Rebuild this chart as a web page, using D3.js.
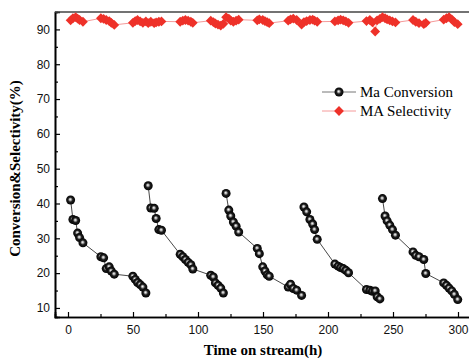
<!DOCTYPE html>
<html>
<head>
<meta charset="utf-8">
<script src="https://cdn.jsdelivr.net/npm/d3@7"></script>
<style>
  body { margin: 0; background: #fff; }
  svg { display: block; }
</style>
</head>
<body>
<div id="chart"></div>
<script>
// time on stream (h), one entry per sample
const time = [
  2, 3.8, 5.9, 7.4, 8.9, 11.5, 25.3, 27.4, 29.4, 31.7, 33.3, 35.6, 49.9, 51.7, 53.5, 55.5, 57.6, 59.9,
  61.7, 63.7, 66.3, 67.8, 69.9, 71.9, 86.3, 88.3, 90.3, 92.4, 94.5, 96, 109.8, 111.8, 113.4, 115.4, 117.5, 119.5,
  121.6, 123.7, 125.2, 127.2, 129.3, 131.3, 145.6, 147.2, 149.8, 151.5, 153.2, 154.8, 169.4, 171.2, 173.3, 175.9, 179.7,
  181.5, 183.6, 186.1, 188.2, 189.7, 191.7, 205.3, 207.8, 209.7, 211.7, 213.7, 215.8, 229.6, 232.2, 234.2, 236.3, 237.8, 239.9,
  241.9, 243.9, 245.5, 247.5, 249.6, 251.9, 265.4, 267.5, 270, 273.7, 275.2, 289, 291.1, 293.1, 295.2, 297.2, 299.8
];

// Ma conversion (%)
const conversion = [
  41, 35.4, 35.1, 31.5, 30.2, 28.7, 24.7, 24.4, 21.3, 21.8, 20.6, 19.7, 19.1, 18.2, 17.3, 16.7, 16.0, 14.3,
  45.1, 38.7, 38.6, 35.7, 32.5, 32.3, 25.4, 24.7, 23.9, 23.1, 22.4, 21.2, 19.4, 18.9, 17.2, 16.5, 15.7, 14.3,
  42.9, 38.1, 36.4, 34.7, 33.5, 31.8, 27.1, 25.6, 21.8, 20.6, 19.5, 19.1, 16.0, 16.8, 15.6, 15.1, 13.6,
  39.0, 37.6, 35.4, 34.1, 32.5, 29.7, 22.6, 22.0, 21.6, 21.3, 20.8, 20.1, 15.3, 15.1, 14.8, 14.9, 13.2, 12.6,
  41.4, 36.4, 35.0, 33.8, 32.5, 30.9, 26.1, 25.1, 24.7, 23.9, 19.9, 17.2, 16.5, 15.7, 14.9, 13.9, 12.4
];

// MA selectivity (%)
const selectivity = [
  92.6, 93.2, 93.5, 93.1, 92.7, 92.2, 93.2, 93.0, 92.7, 92.4, 91.9, 91.3, 91.9, 92.4, 92.7, 92.3, 91.9, 92.3,
  91.8, 92.2, 91.8, 92.0, 92.2, 92.3, 92.2, 92.5, 92.7, 92.5, 92.2, 91.9, 92.5, 92.1, 91.7, 91.4, 91.1, 91.6,
  93.5, 93.1, 92.5, 92.2, 92.5, 92.8, 92.6, 92.9, 92.7, 92.4, 92.1, 91.8, 92.5, 92.9, 93.1, 92.7, 91.4,
  92.1, 92.4, 92.7, 92.8, 92.5, 92.2, 92.3, 92.6, 92.8, 92.6, 92.3, 91.9, 92.4, 92.7, 92.0, 89.4, 92.6, 93.0,
  93.5, 93.2, 92.9, 92.6, 92.3, 92.0, 92.7, 92.2, 91.8, 91.5, 91.9, 92.8, 93.2, 93.5, 92.9, 92.1, 91.5
];

// catalyst regenerated at these times: conversion line restarts
const runStarts = [0, 61, 121, 181, 241];

const xTicks = [0, 50, 100, 150, 200, 250, 300];
const xMinor = [25, 75, 125, 175, 225, 275];
const yTicks = [10, 20, 30, 40, 50, 60, 70, 80, 90];
const yMinor = [15, 25, 35, 45, 55, 65, 75, 85];

const W = 469, H = 358;
const margin = { top: 12, right: -2, bottom: 41, left: 55 };
const width = W - margin.left - margin.right;
const height = H - margin.top - margin.bottom;

const data = time.map((t, i) => ({
  t,
  conv: conversion[i],
  sel: selectivity[i],
  run: d3.bisectRight(runStarts, t) - 1,
}));

const svg = d3
  .select('#chart')
  .append('svg')
  .attr('width', W)
  .attr('height', H);

const defs = svg.append('defs');
const ball = defs
  .append('radialGradient')
  .attr('id', 'ball')
  .attr('cx', '50%')
  .attr('cy', '50%')
  .attr('r', '52%')
  .attr('fx', '45%')
  .attr('fy', '42%');
ball.append('stop').attr('offset', '0%').attr('stop-color', '#ffffff');
ball.append('stop').attr('offset', '22%').attr('stop-color', '#b0b0b0');
ball.append('stop').attr('offset', '50%').attr('stop-color', '#1e1e1e');
ball.append('stop').attr('offset', '100%').attr('stop-color', '#000');

const g = svg
  .append('g')
  .attr('transform', `translate(${margin.left},${margin.top})`);

const x = d3.scaleLinear().domain([-10, 310]).range([0, width]);
const y = d3.scaleLinear().domain([7.4, 95]).range([height, 0]);

// axes, ticks pointing inward
g.append('g')
  .attr('transform', `translate(0,${height})`)
  .call(d3.axisBottom(x).tickValues(xTicks).tickSize(-5).tickPadding(8));
g.append('g')
  .attr('transform', `translate(0,${height})`)
  .call(d3.axisBottom(x).tickValues(xMinor).tickSize(-3).tickFormat(''));

g.append('g')
  .call(d3.axisLeft(y).tickValues(yTicks).tickSize(-5).tickPadding(5));
g.append('g').call(d3.axisLeft(y).tickValues(yMinor).tickSize(-3).tickFormat(''));

g.selectAll('.domain').attr('stroke', '#000').attr('stroke-width', 1.6);
g.selectAll('.tick line').attr('stroke', '#000').attr('stroke-width', 1.2);
g.selectAll('.tick text')
  .attr('font-family', '"Liberation Sans", Arial, sans-serif')
  .attr('font-size', 12)
  .attr('fill', '#111');

// top frame line
g.append('line')
  .attr('x1', 0)
  .attr('x2', width)
  .attr('y1', 0)
  .attr('y2', 0)
  .attr('stroke', '#444')
  .attr('stroke-width', 1.6);

// selectivity: one continuous line
const selLine = d3
  .line()
  .x((d) => x(d.t))
  .y((d) => y(d.sel));
g.append('path')
  .datum(data)
  .attr('fill', 'none')
  .attr('stroke', '#f59a9a')
  .attr('stroke-width', 1)
  .attr('d', selLine);

const diamond = d3.symbol().type(d3.symbolSquare).size(48);
g.selectAll('.sel')
  .data(data)
  .enter()
  .append('path')
  .attr('class', 'sel')
  .attr('d', diamond)
  .attr('transform', (d) => `translate(${x(d.t)},${y(d.sel)}) rotate(45)`)
  .attr('fill', '#ee3129');

// conversion: one line per run
const convLine = d3
  .line()
  .x((d) => x(d.t))
  .y((d) => y(d.conv));
const runs = d3.groups(data, (d) => d.run);
g.selectAll('.conv-line')
  .data(runs)
  .enter()
  .append('path')
  .attr('class', 'conv-line')
  .attr('fill', 'none')
  .attr('stroke', '#333')
  .attr('stroke-width', 0.9)
  .attr('d', (r) => convLine(r[1]));

g.selectAll('.conv')
  .data(data)
  .enter()
  .append('circle')
  .attr('class', 'conv')
  .attr('cx', (d) => x(d.t))
  .attr('cy', (d) => y(d.conv))
  .attr('r', 4.5)
  .attr('fill', 'url(#ball)');

// axis titles
svg.append('text')
  .attr('transform', `translate(20,${margin.top + height / 2 + 4}) rotate(-90)`)
  .attr('text-anchor', 'middle')
  .attr('font-family', '"Liberation Serif", "Times New Roman", serif')
  .attr('font-weight', 'bold')
  .attr('font-size', 15)
  .text('Conversion&Selectivity(%)');

svg.append('text')
  .attr('x', margin.left + width / 2)
  .attr('y', 355)
  .attr('text-anchor', 'middle')
  .attr('font-family', '"Liberation Serif", "Times New Roman", serif')
  .attr('font-weight', 'bold')
  .attr('font-size', 15)
  .text('Time on stream(h)');

// legend
const legend = svg.append('g').attr('transform', 'translate(322,92)');
legend.append('line')
  .attr('x1', 0).attr('x2', 34).attr('y1', 0).attr('y2', 0)
  .attr('stroke', '#777').attr('stroke-width', 1);
legend.append('circle')
  .attr('cx', 17).attr('cy', 0).attr('r', 4.5)
  .attr('fill', 'url(#ball)');
legend.append('text')
  .attr('x', 38).attr('y', 5)
  .attr('font-family', '"Liberation Serif", "Times New Roman", serif')
  .attr('font-size', 15)
  .text('Ma Conversion');

legend.append('line')
  .attr('x1', 0).attr('x2', 34).attr('y1', 19).attr('y2', 19)
  .attr('stroke', '#f59a9a').attr('stroke-width', 1);
legend.append('path')
  .attr('d', diamond)
  .attr('transform', 'translate(17,19) rotate(45)')
  .attr('fill', '#ee3129');
legend.append('text')
  .attr('x', 38).attr('y', 24)
  .attr('font-family', '"Liberation Serif", "Times New Roman", serif')
  .attr('font-size', 15)
  .text('MA Selectivity');
</script>
</body>
</html>
